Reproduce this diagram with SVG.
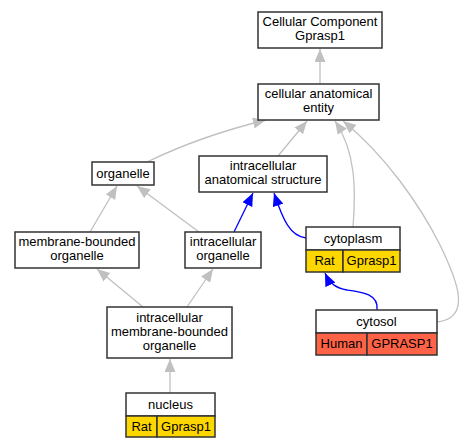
<svg xmlns="http://www.w3.org/2000/svg" width="464" height="448" viewBox="0 0 464 448">
<style>
.box{fill:#fff;stroke:#333;stroke-width:1.5}
.gold{fill:#ffd700;stroke:#333;stroke-width:1.5}
.tomato{fill:#ff6347;stroke:#333;stroke-width:1.5}
text{font-family:"Liberation Sans",Arial,sans-serif;font-size:13px;fill:#000;text-anchor:middle}
.g{fill:none;stroke:#c0c0c0;stroke-width:1.3}
.b{fill:none;stroke:#0000ff;stroke-width:1.3}
</style>
<defs>
<marker id="ag" markerUnits="userSpaceOnUse" markerWidth="13" markerHeight="11" viewBox="0 0 13 11" refX="13" refY="5.5" orient="auto"><path d="M0,0 L13,5.5 L0,11 z" fill="#c0c0c0"/></marker>
<marker id="ab" markerUnits="userSpaceOnUse" markerWidth="13" markerHeight="11" viewBox="0 0 13 11" refX="13" refY="5.5" orient="auto"><path d="M0,0 L13,5.5 L0,11 z" fill="#0000ff"/></marker>
</defs>
<rect width="464" height="448" fill="#fff"/>
<g id="edges">
<path class="g" marker-end="url(#ag)" d="M320,84 L320,49"/>
<path class="g" marker-end="url(#ag)" d="M147,162 C180,146 225,130 266,120"/>
<path class="g" marker-end="url(#ag)" d="M278,156 L307,121"/>
<path class="g" marker-end="url(#ag)" d="M353,227 C356,190 356,152 335,121"/>
<path class="g" marker-end="url(#ag)" d="M437,322 C472,318 458,282 440,245 C420,205 385,155 343,121"/>
<path class="g" marker-end="url(#ag)" d="M90,232 L117,186"/>
<path class="g" marker-end="url(#ag)" d="M199,232 L137,186"/>
<path class="b" marker-end="url(#ab)" d="M234,232 L253,193"/>
<path class="b" marker-end="url(#ab)" d="M306,238 C290,236 283,220 274,193"/>
<path class="b" marker-end="url(#ab)" d="M377,310 C379,294 362,292 347,290 C336,288 330,284 325,273"/>
<path class="g" marker-end="url(#ag)" d="M143,307 L97,269"/>
<path class="g" marker-end="url(#ag)" d="M187,307 L213,269"/>
<path class="g" marker-end="url(#ag)" d="M170,393 L170,359"/>
</g>
<g id="n_cc"><rect class="box" x="258" y="12" width="124" height="36"/><text x="320" y="26">Cellular Component</text><text x="320" y="40">Gprasp1</text></g>
<g id="n_cae"><rect class="box" x="258" y="84" width="121" height="36"/><text x="318.5" y="98">cellular anatomical</text><text x="318.5" y="112">entity</text></g>
<g id="n_organelle"><rect class="box" x="92" y="162" width="62" height="23"/><text x="123" y="178">organelle</text></g>
<g id="n_ias"><rect class="box" x="199" y="156" width="128" height="36"/><text x="263" y="170">intracellular</text><text x="263" y="184">anatomical structure</text></g>
<g id="n_mbo"><rect class="box" x="15" y="232" width="124" height="36"/><text x="77" y="246">membrane-bounded</text><text x="77" y="260">organelle</text></g>
<g id="n_io"><rect class="box" x="185" y="232" width="76" height="36"/><text x="223" y="246">intracellular</text><text x="223" y="260">organelle</text></g>
<g id="n_cytoplasm"><rect class="box" x="306" y="227" width="94" height="23"/><rect class="gold" x="306" y="250" width="37" height="22"/><rect class="gold" x="343" y="250" width="57" height="22"/><text x="353" y="243">cytoplasm</text><text x="324.5" y="265">Rat</text><text x="371.5" y="265">Gprasp1</text></g>
<g id="n_cytosol"><rect class="box" x="316" y="310" width="121" height="23"/><rect class="tomato" x="316" y="333" width="51" height="22"/><rect class="tomato" x="367" y="333" width="70" height="22"/><text x="376.5" y="326">cytosol</text><text x="341.5" y="348">Human</text><text x="402" y="348">GPRASP1</text></g>
<g id="n_imbo"><rect class="box" x="107" y="307" width="125" height="51"/><text x="169.5" y="322">intracellular</text><text x="169.5" y="336">membrane-bounded</text><text x="169.5" y="350">organelle</text></g>
<g id="n_nucleus"><rect class="box" x="126" y="393" width="89" height="23"/><rect class="gold" x="126" y="416" width="31" height="21"/><rect class="gold" x="157" y="416" width="58" height="21"/><text x="170.5" y="409">nucleus</text><text x="141.5" y="431">Rat</text><text x="186" y="431">Gprasp1</text></g>
</svg>
